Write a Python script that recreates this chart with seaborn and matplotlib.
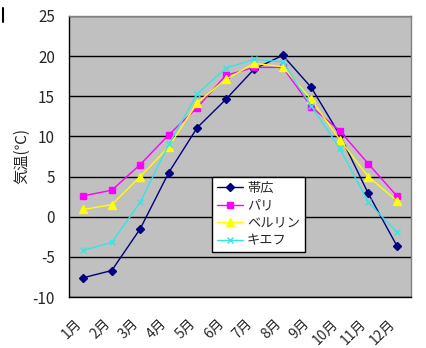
import matplotlib
matplotlib.use("Agg")
import matplotlib.pyplot as plt
import matplotlib.transforms as mtransforms
import seaborn as sns
import pandas as pd
from matplotlib.lines import Line2D

months = ["1月", "2月", "3月", "4月", "5月", "6月", "7月", "8月", "9月", "10月", "11月", "12月"]
obihiro = [-7.6, -6.7, -1.5, 5.5, 11.1, 14.6, 18.4, 20.1, 16.1, 10.2, 2.9, -3.6]
paris = [2.6, 3.3, 6.5, 10.2, 13.6, 17.6, 18.6, 18.6, 13.7, 10.7, 6.6, 2.6]
berlin = [0.9, 1.5, 5.0, 8.7, 14.2, 17.1, 19.1, 18.7, 14.6, 9.6, 5.0, 2.0]
kiev = [-4.2, -3.2, 1.8, 9.0, 15.3, 18.5, 19.6, 19.3, 13.8, 8.5, 1.8, -1.9]
series_names = ["帯広", "パリ", "ベルリン", "キエフ"]
yticks = [-10, -5, 0, 5, 10, 15, 20, 25]

sns.set_style("white")
plt.rcParams['font.family'] = ['Noto Sans CJK JP', 'DejaVu Sans']

rows = []
for name, vals in zip(series_names, [obihiro, paris, berlin, kiev]):
    for i, v in enumerate(vals):
        rows.append({"x": i, "temp": v, "city": name})
df = pd.DataFrame(rows)

colors = {"帯広": "#000080", "パリ": "#FF00FF", "ベルリン": "#FFFF00", "キエフ": "#33E6E6"}
markers = {"帯広": "D", "パリ": "s", "ベルリン": "^", "キエフ": "x"}
msizes = {"帯広": 4, "パリ": 4.5, "ベルリン": 5.5, "キエフ": 4}

fig = plt.figure(figsize=(4.27, 3.48), dpi=100)
ax = fig.add_axes([69/427, 51/348, 342/427, 281/348])
ax.set_facecolor("#C0C0C0")

for name in series_names:
    sub = df[df.city == name]
    sns.lineplot(data=sub, x="x", y="temp", ax=ax, color=colors[name],
                 marker=markers[name], markersize=msizes[name],
                 markeredgecolor=colors[name], markeredgewidth=1.0,
                 linewidth=1.0, label=name, zorder=3)

ax.set_xlim(-0.5, 11.5)
ax.set_ylim(-10, 25)
ax.set_yticks(yticks)
ax.set_yticklabels([str(t) for t in yticks], fontsize=11)
ax.yaxis.grid(True, color="black", linewidth=1.0)
ax.set_axisbelow(True)
ax.set_xticks(range(12))
ax.set_xticklabels(months, rotation=45, ha="right", va="top", fontsize=10,
                   rotation_mode="anchor")
ax.tick_params(axis="x", which="major", length=0, pad=14)
offset = mtransforms.ScaledTranslation(-9/100, 0, fig.dpi_scale_trans)
for lbl in ax.get_xticklabels():
    lbl.set_transform(lbl.get_transform() + offset)
ax.set_xticks([i + 0.5 for i in range(-1, 12)], minor=True)
ax.tick_params(axis="x", which="minor", direction="in", length=5, width=1, color="black")
ax.tick_params(axis="y", length=0, pad=10)
ax.set_xlabel("")
ax.set_ylabel("気温(℃)", fontsize=11, labelpad=2)

for s in ["top", "right"]:
    ax.spines[s].set_color("#808080")
    ax.spines[s].set_linewidth(1.0)
for s in ["left", "bottom"]:
    ax.spines[s].set_color("black")
    ax.spines[s].set_linewidth(1.0)

leg = ax.legend(loc="upper left", bbox_to_anchor=(0.418, 0.427), fontsize=9.5,
                frameon=True, fancybox=False, framealpha=1, edgecolor="black",
                borderpad=0.35, labelspacing=0.35, handlelength=2.0, handletextpad=0.3,
                borderaxespad=0)
leg.get_frame().set_linewidth(1.0)

fig.add_artist(Line2D([3/427, 3/427], [1 - 8/348, 1 - 22/348], color="black", linewidth=1.5))

fig.savefig("out.png", dpi=100, facecolor="white")
